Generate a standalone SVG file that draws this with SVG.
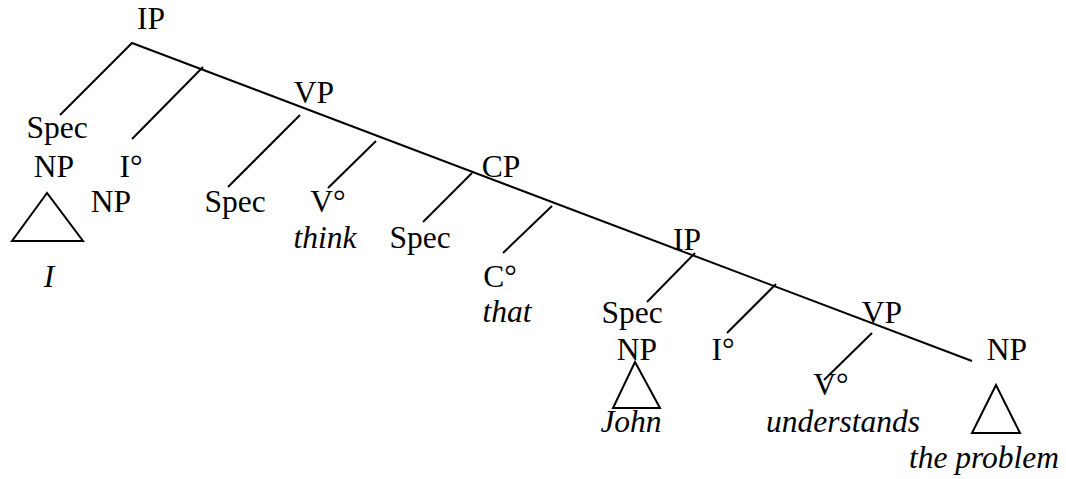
<svg xmlns="http://www.w3.org/2000/svg" width="1066" height="479" viewBox="0 0 1066 479">
<style>
.t{font-family:"Liberation Serif",serif;font-size:31.5px;fill:#000;text-anchor:middle}
.it{font-family:"Liberation Serif",serif;font-size:31.5px;font-style:italic;fill:#000;text-anchor:middle}
.ln{stroke:#000;stroke-width:2;fill:none}
</style>
<rect width="1066" height="479" fill="#fff"/>
<g id="connectors">
<polyline class="ln" points="60,115 132,43 972,361"/>
<line class="ln" x1="203" y1="67" x2="132" y2="139"/>
<line class="ln" x1="300" y1="115" x2="228" y2="187"/>
<line class="ln" x1="376" y1="141" x2="328" y2="188"/>
<line class="ln" x1="472" y1="173" x2="423" y2="222"/>
<line class="ln" x1="552" y1="206" x2="503" y2="253"/>
<line class="ln" x1="695" y1="253" x2="647" y2="302"/>
<line class="ln" x1="776" y1="284" x2="727" y2="333"/>
<line class="ln" x1="872" y1="333" x2="824" y2="380"/>
</g>
<g id="ip1"><text class="t" x="151" y="29">IP</text></g>
<g id="spec1"><text class="t" x="57" y="138">Spec</text></g>
<g id="np1"><text class="t" x="54" y="177">NP</text><polygon class="ln" points="47,193 12,241 83,241"/><text class="it" x="49" y="287">I</text></g>
<g id="i1"><text class="t" x="131" y="177">I°</text></g>
<g id="np1b"><text class="t" x="111" y="212">NP</text></g>
<g id="vp1"><text class="t" x="314" y="103">VP</text></g>
<g id="spec2"><text class="t" x="235" y="212">Spec</text></g>
<g id="v1"><text class="t" x="328" y="212">V°</text><text class="it" x="325" y="248">think</text></g>
<g id="cp"><text class="t" x="501" y="177">CP</text></g>
<g id="spec3"><text class="t" x="420" y="248">Spec</text></g>
<g id="c"><text class="t" x="500" y="287">C°</text><text class="it" x="507" y="322">that</text></g>
<g id="ip2"><text class="t" x="687" y="250">IP</text></g>
<g id="spec4"><text class="t" x="632" y="323">Spec</text></g>
<g id="np2"><text class="t" x="637" y="360">NP</text><polygon class="ln" points="635,362 613,408 660,408"/><text class="it" x="631" y="432">John</text></g>
<g id="i2"><text class="t" x="723" y="360">I°</text></g>
<g id="vp2"><text class="t" x="882" y="323">VP</text></g>
<g id="v2"><text class="t" x="831" y="395">V°</text><text class="it" x="843" y="432">understands</text></g>
<g id="np3"><text class="t" x="1007" y="360">NP</text><polygon class="ln" points="996,385 972,433 1020,433"/><text class="it" x="984" y="468">the problem</text></g>
</svg>
